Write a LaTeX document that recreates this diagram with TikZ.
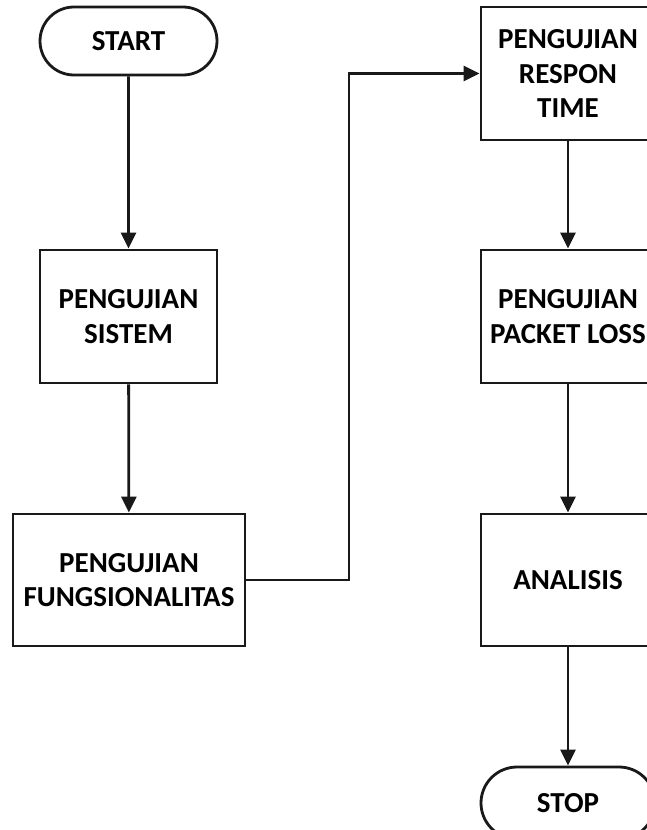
\documentclass[tikz,border=0pt]{standalone}
\usepackage{fontspec}
\setmainfont{Carlito}
\usetikzlibrary{arrows.meta,shapes.misc}
\begin{document}
\begin{tikzpicture}[x=1pt,y=-1pt,
  base/.style={draw=black!90,line width=2.8pt,fill=white,align=center,inner sep=0pt,
    font=\fontsize{29}{34.5}\selectfont\bfseries},
  box/.style={base,rectangle,minimum width=#1,minimum height=133pt},
  box/.default=174pt,
  term/.style={base,rounded rectangle,minimum width=#1,minimum height=68pt},
  term/.default=177pt,
  arr/.style={draw=black!90,line width=2.8pt,-{Triangle[length=16pt,width=15pt]}}]
\useasboundingbox[fill=white] (0,0) rectangle (646,830);
\node[term] (start) at (128.5,41) {START};
\node[box=177pt] (sistem) at (128.5,316.5) {PENGUJIAN\\SISTEM};
\node[box=232pt,minimum height=132pt] (fung) at (129,580) {PENGUJIAN\\FUNGSIONALITAS};
\node[box] (respon) at (568,73.5) {PENGUJIAN\\RESPON\\TIME};
\node[box] (packet) at (568,316.5) {PENGUJIAN\\PACKET LOSS};
\node[box,minimum height=132pt] (analisis) at (568,580) {ANALISIS};
\node[term=174pt,minimum height=72pt] (stop) at (568,803) {STOP};
\coordinate (bend) at (349,580);
\draw[arr] (start) -- (sistem);
\draw[arr] (sistem) -- (fung);
\draw[arr] (fung.east) -- (bend) |- (respon.west);
\draw[arr] (respon) -- (packet);
\draw[arr] (packet) -- (analisis);
\draw[arr] (analisis) -- (stop);
\end{tikzpicture}
\end{document}
